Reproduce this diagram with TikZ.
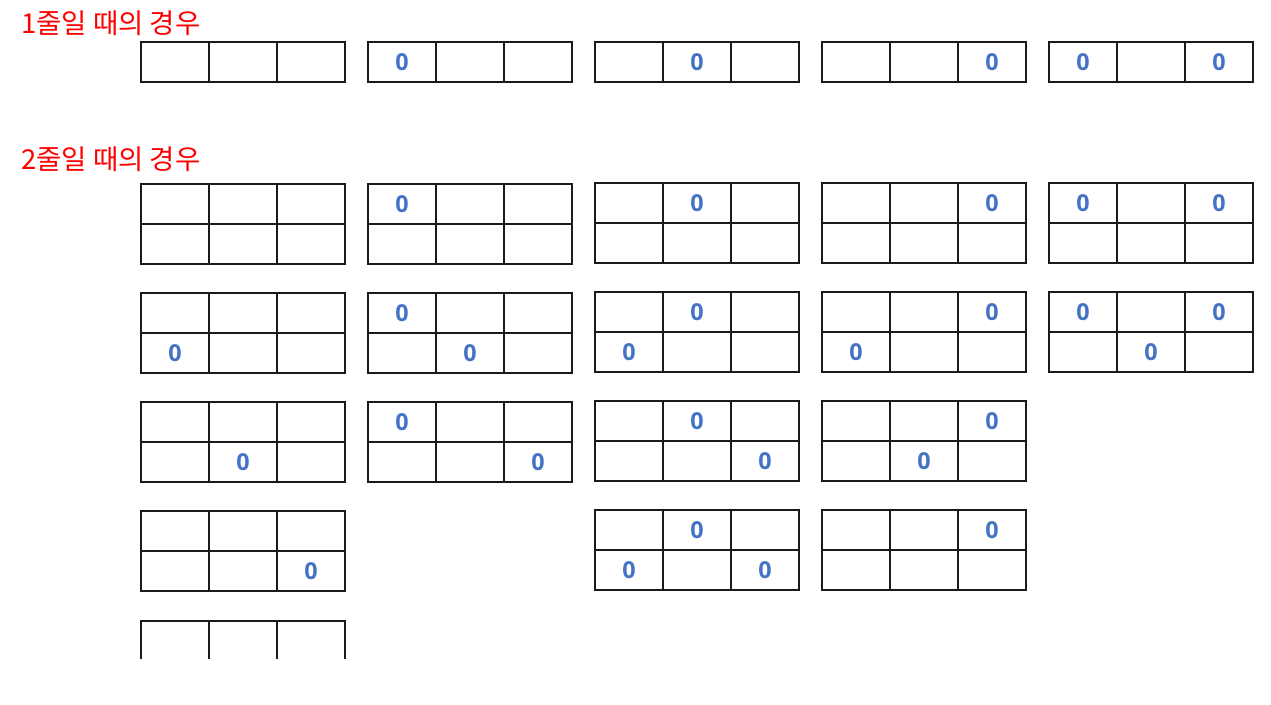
\documentclass[tikz,border=0pt]{standalone}
\usepackage{fontspec}
\newfontfamily\krfont{Noto Sans CJK KR}
\newfontfamily\zerofont{Open Sans}[BoldFont=* Bold]
\definecolor{titlered}{HTML}{FF0000}
\definecolor{zeroblue}{HTML}{4472C4}
\definecolor{gridcol}{HTML}{1A1A1A}
\tikzset{
  gridline/.style={draw=gridcol,line width=0.85pt},
  zero/.style={text=zeroblue,font=\zerofont\bfseries\fontsize{17.5}{19}\selectfont,inner sep=0pt},
  titletext/.style={text=titlered,font=\krfont\fontsize{20.6}{22}\selectfont,anchor=west,inner sep=0pt}
}
% table: x, y (top-left), number of rows
\newcommand{\tbl}[3]{%
  \draw[gridline] (#1,#2) rectangle ++(204,{40*#3});
  \draw[gridline] ({#1+68},#2) -- ++(0,{40*#3});
  \draw[gridline] ({#1+136},#2) -- ++(0,{40*#3});
  \ifnum#3>1 \draw[gridline] (#1,{#2+40}) -- ++(204,0);\fi
}
% zero: x, y (table top-left), column, row
\newcommand{\zz}[4]{%
  \node[zero] (z-#1-#2-#3-#4) at ({#1+68*#3-34},{#2+40*#4-20}) {0};
}
\begin{document}
\begin{tikzpicture}[x=0.75pt,y=-0.75pt]
\useasboundingbox[fill=white] (0,0) rectangle (1271,704);
\node[titletext] (t1) at (21,23) {1줄일 때의 경우};
\node[titletext] (t2) at (21,159) {2줄일 때의 경우};
% one row
\tbl{141}{42}{1}
\tbl{368}{42}{1} \zz{368}{42}{1}{1}
\tbl{595}{42}{1} \zz{595}{42}{2}{1}
\tbl{822}{42}{1} \zz{822}{42}{3}{1}
\tbl{1049}{42}{1} \zz{1049}{42}{1}{1} \zz{1049}{42}{3}{1}
% two rows: row A
\tbl{141}{184}{2}
\tbl{368}{184}{2} \zz{368}{184}{1}{1}
\tbl{595}{183}{2} \zz{595}{183}{2}{1}
\tbl{822}{183}{2} \zz{822}{183}{3}{1}
\tbl{1049}{183}{2} \zz{1049}{183}{1}{1} \zz{1049}{183}{3}{1}
% row B
\tbl{141}{293}{2} \zz{141}{293}{1}{2}
\tbl{368}{293}{2} \zz{368}{293}{1}{1} \zz{368}{293}{2}{2}
\tbl{595}{292}{2} \zz{595}{292}{2}{1} \zz{595}{292}{1}{2}
\tbl{822}{292}{2} \zz{822}{292}{3}{1} \zz{822}{292}{1}{2}
\tbl{1049}{292}{2} \zz{1049}{292}{1}{1} \zz{1049}{292}{3}{1} \zz{1049}{292}{2}{2}
% row C
\tbl{141}{402}{2} \zz{141}{402}{2}{2}
\tbl{368}{402}{2} \zz{368}{402}{1}{1} \zz{368}{402}{3}{2}
\tbl{595}{401}{2} \zz{595}{401}{2}{1} \zz{595}{401}{3}{2}
\tbl{822}{401}{2} \zz{822}{401}{3}{1} \zz{822}{401}{2}{2}
% row D
\tbl{141}{511}{2} \zz{141}{511}{3}{2}
\tbl{595}{510}{2} \zz{595}{510}{2}{1} \zz{595}{510}{1}{2} \zz{595}{510}{3}{2}
\tbl{822}{510}{2} \zz{822}{510}{3}{1}
% row E (cut off)
\draw[gridline] (141,659) -- (141,621) -- (345,621) -- (345,659);
\draw[gridline] (209,621) -- (209,659);
\draw[gridline] (277,621) -- (277,659);
\end{tikzpicture}
\end{document}
